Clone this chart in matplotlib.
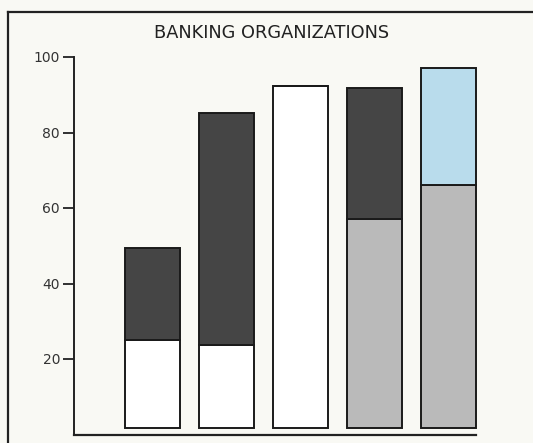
import matplotlib
matplotlib.use("Agg")
import matplotlib.pyplot as plt
from matplotlib.lines import Line2D
import numpy as np

# Data
bar_positions = [0, 1, 2, 3, 4]
lower_values = [25.0, 23.7, 92.3, 57.1, 66.2]     # top of lower segment
upper_tops = [49.3, 85.1, 92.3, 91.7, 97.0]       # total bar height
lower_colors = ["#ffffff", "#ffffff", "#ffffff", "#bababa", "#bababa"]
upper_colors = ["#454545", "#454545", "#ffffff", "#454545", "#b9dcec"]
yticks = [20, 40, 60, 80, 100]
ytick_labels = ["20", "40", "60", "80", "100"]
title = "BANKING ORGANIZATIONS"

BASE = 1.8  # small gap between bars and axis line

W, H = 533, 443
fig = plt.figure(figsize=(W / 100, H / 100), dpi=100)
bg = "#f9f9f4"
fig.patch.set_facecolor(bg)

# Outer frame (extends past right/bottom edges)
fig.add_artist(Line2D([8 / W, 8 / W], [-0.05, 1 - 12 / H], color="#222222", lw=1.6, transform=fig.transFigure))
fig.add_artist(Line2D([8 / W, 1.05], [1 - 12 / H, 1 - 12 / H], color="#222222", lw=1.6, transform=fig.transFigure))

px_per_unit = 3.775
y0_px = 434.5
ymax = 104
ax = fig.add_axes([74 / W, (H - y0_px) / H, (480 - 74) / W, ymax * px_per_unit / H])
ax.set_facecolor("none")

width = 55 / 74.1
lower_h = [lv - BASE for lv in lower_values]
upper_h = [ut - lv for ut, lv in zip(upper_tops, lower_values)]
ax.bar(bar_positions, lower_h, bottom=BASE, width=width, color=lower_colors,
       edgecolor="#1a1a1a", linewidth=1.4, zorder=3)
ax.bar(bar_positions, upper_h, bottom=lower_values, width=width, color=upper_colors,
       edgecolor="#1a1a1a", linewidth=1.4, zorder=3)

xl, xr = -1.06, 4.37
ax.set_xlim(xl, xl + (480 - 74) / 74.1)
ax.set_ylim(0, ymax)

for s in ["top", "right"]:
    ax.spines[s].set_visible(False)
ax.spines["left"].set_bounds(0, 100)
ax.spines["bottom"].set_bounds(xl, xr)
ax.spines["left"].set_linewidth(1.4)
ax.spines["bottom"].set_linewidth(1.6)
ax.spines["left"].set_color("#222222")
ax.spines["bottom"].set_color("#222222")

ax.set_xticks([])
ax.set_yticks(yticks)
ax.set_yticklabels(ytick_labels, fontsize=10, color="#333333")
ax.tick_params(axis="y", direction="out", length=8, width=1.3, pad=2, colors="#222222",
               labelcolor="#333333")

fig.text(272 / W, 1 - 33 / H, title, ha="center", va="center", fontsize=12.8,
         color="#222222", fontfamily="DejaVu Sans")

fig.savefig("out.png", dpi=100, facecolor=bg)
